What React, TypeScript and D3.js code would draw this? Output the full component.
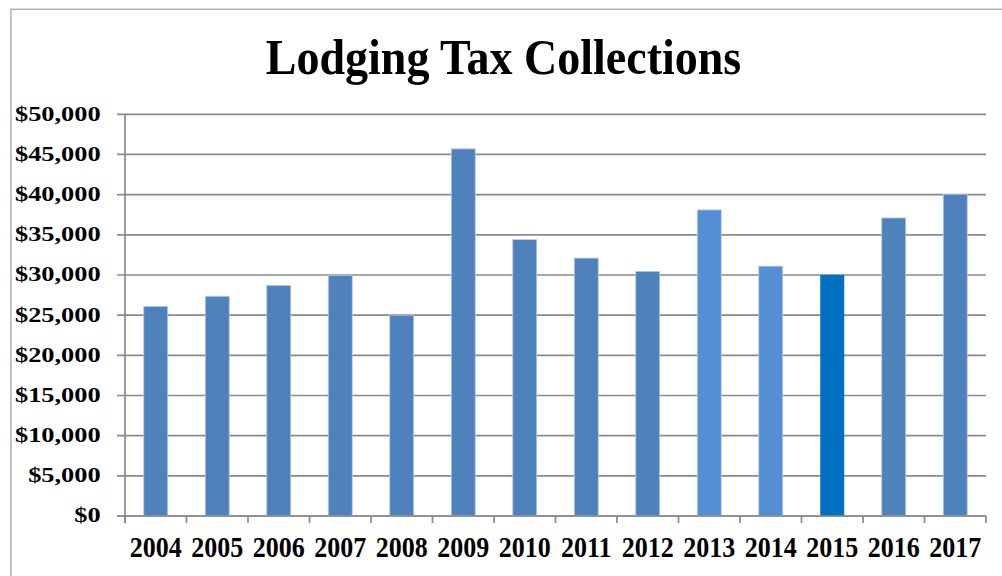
import React from "react";
import * as d3 from "d3";

const years = ["2004","2005","2006","2007","2008","2009","2010","2011","2012","2013","2014","2015","2016","2017"];
const collections = [26100, 27350, 28700, 29950, 25000, 45700, 34400, 32100, 30450, 38100, 31100, 30000, 37100, 40050];
const barColors = ["#4F81BD","#4F81BD","#4F81BD","#4F81BD","#4F81BD","#4F81BD","#4F81BD","#4F81BD","#4F81BD","#558ED5","#558ED5","#0070C0","#4F81BD","#4F81BD"];
const yTicks = [0, 5000, 10000, 15000, 20000, 25000, 30000, 35000, 40000, 45000, 50000];
const title = "Lodging Tax Collections";

const W = 1002, H = 576;
const left = 125, right = 986, top = 114.3, bottom = 516;
const serif = "'Liberation Serif', 'Times New Roman', serif";

export default function App() {
  const x = d3.scaleBand<string>().domain(years).range([left, right]).paddingInner(0.61).paddingOuter(0.305);
  const y = d3.scaleLinear().domain([0, 50000]).range([bottom, top]);
  const step = x.step();
  const fmt = (v: number) => "$" + d3.format(",")(v);
  const gridColor = "#8a8a8a";

  return (
    <svg width={W} height={H} style={{ position: "absolute", left: 0, top: 0, background: "#fff" }} xmlns="http://www.w3.org/2000/svg">
      <rect x={0} y={0} width={W} height={H} fill="#fff" />
      <rect x={11} y={9.3} width={W} height={H} fill="none" stroke="#b0b0b0" strokeWidth={1.5} />
      <g transform={`translate(503.5,74) scale(1,1.09)`}>
        <text textAnchor="middle" fontFamily={serif} fontWeight="bold" fontSize={46} fill="#000">{title}</text>
      </g>
      {yTicks.map((t) => (
        <g key={t}>
          <line x1={117} x2={right} y1={y(t)} y2={y(t)} stroke={gridColor} strokeWidth={1.7} />
          <g transform={`translate(100.7,${y(t) + 6.4}) scale(1.2,1)`}>
            <text textAnchor="end" fontFamily={serif} fontWeight="bold" fontSize={22} fill="#000">{fmt(t)}</text>
          </g>
        </g>
      ))}
      <line x1={left} x2={left} y1={top} y2={bottom + 7} stroke={gridColor} strokeWidth={1.7} />
      {years.map((yr, i) => (
        <rect key={yr} x={x(yr)} y={y(collections[i])} width={x.bandwidth()} height={bottom - y(collections[i])}
          fill={barColors[i]} stroke={i === 11 ? "none" : "#b9cde5"} strokeWidth={0.8} />
      ))}
      {d3.range(years.length + 1).map((i) => (
        <line key={i} x1={left + i * step} x2={left + i * step} y1={bottom} y2={bottom + 7} stroke={gridColor} strokeWidth={1.7} />
      ))}
      <line x1={117} x2={right} y1={bottom} y2={bottom} stroke={gridColor} strokeWidth={1.7} />
      {years.map((yr) => (
        <g key={yr} transform={`translate(${(x(yr) as number) + x.bandwidth() / 2},556.7) scale(1,1.1)`}>
          <text textAnchor="middle" fontFamily={serif} fontWeight="bold" fontSize={26} fill="#000">{yr}</text>
        </g>
      ))}
    </svg>
  );
}
